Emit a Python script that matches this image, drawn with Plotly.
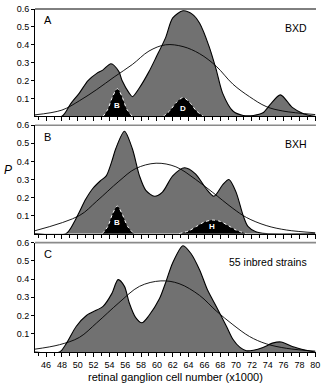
import plotly.graph_objects as go

# ---------------- data ----------------
# Panel A: BXD
a_x = [44.6, 48.0, 49.1, 50.2, 51.3, 52.4, 53.2, 54.2, 55.2, 55.6, 56.5, 56.9, 57.8, 59.0, 59.9, 61.1, 62.0, 63.3, 64.5, 65.4, 66.6, 67.5, 68.3, 69.6, 70.9, 72.2, 73.4, 74.3, 75.6, 77.1, 78.5, 80.0]
a_y = [0.0, 0.0, 0.07, 0.13, 0.20, 0.24, 0.26, 0.294, 0.25, 0.20, 0.13, 0.11, 0.16, 0.25, 0.33, 0.44, 0.55, 0.59, 0.57, 0.52, 0.39, 0.26, 0.13, 0.03, 0.005, 0.005, 0.02, 0.065, 0.12, 0.05, 0.015, 0.0]
a_fit_x = [44.5, 48.0, 50.2, 52.4, 54.6, 56.9, 59.0, 61.1, 63.3, 65.4, 67.5, 69.6, 71.7, 73.8, 75.9, 80.0]
a_fit_y = [0.008, 0.035, 0.087, 0.15, 0.22, 0.29, 0.365, 0.40, 0.39, 0.35, 0.28, 0.18, 0.11, 0.055, 0.03, 0.01]
a_b_x = [53.2, 53.8, 54.4, 55.0, 55.6, 56.2, 56.9]
a_b_y = [0.0, 0.04, 0.11, 0.155, 0.11, 0.04, 0.0]
a_d_x = [60.8, 61.6, 62.5, 63.3, 64.1, 65.0, 65.9]
a_d_y = [0.0, 0.03, 0.08, 0.105, 0.08, 0.03, 0.0]

# Panel B: BXH
b_x = [44.6, 48.5, 49.5, 50.2, 51.0, 51.9, 52.8, 53.6, 54.3, 54.8, 55.9, 56.9, 57.8, 58.6, 59.7, 60.7, 62.0, 63.5, 64.9, 66.2, 67.2, 68.3, 69.1, 70.0, 70.9, 71.5, 72.5, 73.8, 80.0]
b_y = [0.0, 0.0, 0.06, 0.12, 0.19, 0.25, 0.29, 0.32, 0.40, 0.47, 0.567, 0.47, 0.32, 0.24, 0.207, 0.23, 0.32, 0.365, 0.33, 0.25, 0.207, 0.27, 0.30, 0.23, 0.10, 0.04, 0.01, 0.0, 0.0]
b_fit_x = [44.5, 50.2, 52.4, 55.2, 57.3, 59.9, 62.4, 64.9, 67.0, 69.6, 71.3, 73.8, 76.4, 80.0]
b_fit_y = [0.015, 0.10, 0.18, 0.29, 0.36, 0.39, 0.37, 0.30, 0.23, 0.14, 0.09, 0.045, 0.02, 0.005]
b_b_x = [53.1, 53.8, 54.4, 55.0, 55.6, 56.3, 57.1]
b_b_y = [0.0, 0.04, 0.11, 0.153, 0.11, 0.04, 0.0]
b_h_x = [62.8, 64.0, 65.0, 66.0, 67.0, 68.0, 69.0, 70.0, 71.3]
b_h_y = [0.0, 0.015, 0.04, 0.065, 0.075, 0.068, 0.045, 0.02, 0.0]

# Panel C: 55 inbred strains
c_x = [44.6, 47.7, 48.6, 49.8, 51.1, 52.4, 53.2, 54.3, 55.1, 55.9, 56.5, 57.3, 58.1, 59.0, 60.3, 61.1, 62.0, 63.3, 64.3, 65.4, 66.4, 67.5, 68.8, 69.6, 70.5, 71.3, 72.2, 73.4, 74.7, 75.7, 77.1, 78.8, 80.0]
c_y = [0.0, 0.0, 0.05, 0.14, 0.20, 0.23, 0.25, 0.32, 0.397, 0.36, 0.27, 0.19, 0.16, 0.20, 0.29, 0.38, 0.49, 0.583, 0.54, 0.45, 0.34, 0.25, 0.14, 0.07, 0.025, 0.007, 0.01, 0.025, 0.05, 0.055, 0.03, 0.01, 0.0]
c_fit_x = [44.5, 47.7, 50.2, 52.4, 55.2, 57.8, 60.5, 62.8, 65.4, 67.5, 69.6, 71.7, 73.8, 76.4, 80.0]
c_fit_y = [0.015, 0.04, 0.08, 0.16, 0.27, 0.36, 0.39, 0.375, 0.31, 0.225, 0.15, 0.085, 0.045, 0.02, 0.005]

panel_letters = ["A", "B", "C"]
panel_names = ["BXD", "BXH", "55 inbred strains"]
peak_labels = [("B", 55.0, 0.06, 1), ("D", 63.3, 0.045, 1), ("B", 55.0, 0.06, 2), ("H", 67.0, 0.04, 2)]
y_ticks = [0.1, 0.2, 0.3, 0.4, 0.5, 0.6]

GRAY = "#717171"
FONT = "Liberation Sans, Arial, sans-serif"

fig = go.Figure()

def add_panel(row, gx, gy, fx, fy, blacks):
    xa = "x" if row == 1 else f"x{row}"
    ya = "y" if row == 1 else f"y{row}"
    fig.add_trace(go.Scatter(x=gx, y=gy, xaxis=xa, yaxis=ya, mode="lines",
                             line=dict(color="black", width=1.1, shape="spline", smoothing=0.8),
                             fill="tozeroy", fillcolor=GRAY, showlegend=False, hoverinfo="skip"))
    for bx, by in blacks:
        fig.add_trace(go.Scatter(x=bx, y=by, xaxis=xa, yaxis=ya, mode="lines",
                                 line=dict(color="white", width=1, dash="dot", shape="spline", smoothing=0.8),
                                 fill="tozeroy", fillcolor="black", showlegend=False, hoverinfo="skip"))
    fig.add_trace(go.Scatter(x=fx, y=fy, xaxis=xa, yaxis=ya, mode="lines",
                             line=dict(color="black", width=0.9, shape="spline", smoothing=1.0),
                             showlegend=False, hoverinfo="skip"))

add_panel(1, a_x, a_y, a_fit_x, a_fit_y, [(a_b_x, a_b_y), (a_d_x, a_d_y)])
add_panel(2, b_x, b_y, b_fit_x, b_fit_y, [(b_b_x, b_b_y), (b_h_x, b_h_y)])
add_panel(3, c_x, c_y, c_fit_x, c_fit_y, [])

domains = [[0.687, 1.0], [0.345, 0.661], [0.0, 0.319]]
layout = dict(
    width=328, height=387,
    margin=dict(l=35, r=12, t=4, b=35),
    paper_bgcolor="white", plot_bgcolor="white",
    font=dict(family=FONT, size=9, color="black"),
    showlegend=False,
)
for i in range(3):
    sx = "" if i == 0 else str(i + 1)
    layout["xaxis" + sx] = dict(
        domain=[0, 1], anchor="y" + sx, range=[44.6, 80.1],
        tick0=0, dtick=2, ticks="outside", ticklen=4, tickwidth=1, tickcolor="black",
        minor=dict(dtick=1, ticks="outside", ticklen=3, tickcolor="black"),
        showticklabels=(i == 2), showline=True, linecolor="black", linewidth=1,
        showgrid=False, zeroline=False, tickfont=dict(size=9),
    )
    layout["yaxis" + sx] = dict(
        domain=domains[i], anchor="x" + sx, range=[0, 0.6],
        tickvals=y_ticks, ticktext=[f"{v:.1f}" for v in y_ticks],
        ticks="outside", ticklen=3, tickcolor="black",
        showline=True, linecolor="black", linewidth=1,
        showgrid=False, zeroline=False, tickfont=dict(size=9),
    )
fig.update_layout(**layout)

# top frame lines
for i in range(3):
    sx = "" if i == 0 else str(i + 1)
    fig.add_shape(type="line", xref=("x" + sx + " domain"), yref=("y" + sx + " domain"),
                  x0=0, x1=1, y0=1, y1=1,
                  line=dict(color="black" if i == 0 else "#8a8a8a", width=1 if i == 0 else 1.6))

for i in range(3):
    sx = "" if i == 0 else str(i + 1)
    fig.add_annotation(text=panel_letters[i], xref="x" + sx + " domain", yref="y" + sx + " domain",
                       x=0.025, y=0.97, xanchor="left", yanchor="top", showarrow=False,
                       font=dict(size=11, family=FONT))
    fig.add_annotation(text=panel_names[i], xref="x" + sx + " domain", yref="y" + sx + " domain",
                       x=0.975, y=0.90, xanchor="right", yanchor="top", showarrow=False,
                       font=dict(size=10.5, family=FONT))

for lab, lx, ly, row in peak_labels:
    sx = "" if row == 1 else str(row)
    fig.add_annotation(text=f"<b>{lab}</b>", x=lx, y=ly, xref="x" + sx, yref="y" + sx,
                       showarrow=False, font=dict(size=8, color="white", family=FONT))

fig.add_annotation(text="<i>P</i>", xref="paper", yref="y2", x=0, y=0.35,
                   xanchor="center", yanchor="middle", xshift=-27, showarrow=False,
                   font=dict(size=12, family=FONT))
fig.add_annotation(text="retinal ganglion cell number (x1000)", xref="paper", yref="paper",
                   x=0.5, y=0, xanchor="center", yanchor="middle", yshift=-25, showarrow=False,
                   font=dict(size=11, family=FONT))

fig.write_html("out.html")
